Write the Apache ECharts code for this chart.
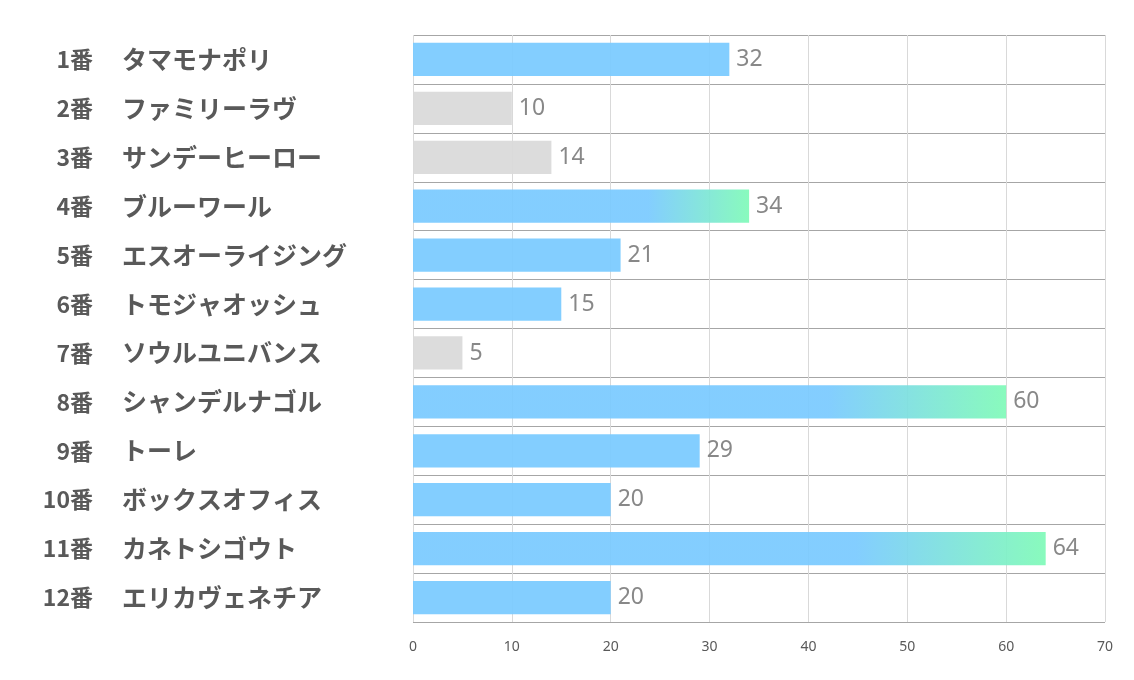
<!DOCTYPE html>
<html>
<head>
<meta charset="utf-8">
<script src="https://cdn.jsdelivr.net/npm/echarts@6/dist/echarts.min.js"></script>
<style>
  html, body { margin: 0; padding: 0; background: #fff; }
  #main { width: 1134px; height: 680px; }
</style>
</head>
<body>
<div id="main"></div>
<script>
// 馬番と馬名
const umaban = ["1番", "2番", "3番", "4番", "5番", "6番", "7番", "8番", "9番", "10番", "11番", "12番"];
const horseNames = ["タマモナポリ", "ファミリーラヴ", "サンデーヒーロー", "ブルーワール", "エスオーライジング", "トモジャオッシュ",
  "ソウルユニバンス", "シャンデルナゴル", "トーレ", "ボックスオフィス", "カネトシゴウト", "エリカヴェネチア"];
const scores = [32, 10, 14, 34, 21, 15, 5, 60, 29, 20, 64, 20];
// 0=通常(青) 1=低評価(灰) 2=注目(グラデーション)
const barType = [0, 1, 1, 2, 0, 0, 1, 2, 0, 0, 2, 0];
const xTicks = [0, 70, 10]; // min, max, interval

const BLUE = "#7acaff";
const GRAY = "#d9d9d9";
const GREEN = "#80fab8";

let chart = echarts.init(document.getElementById("main"));

let seriesData = scores.map((v, i) => {
  let color = BLUE;
  if (barType[i] === 1) color = GRAY;
  if (barType[i] === 2) {
    color = new echarts.graphic.LinearGradient(0, 0, 1, 0, [
      { offset: 0, color: BLUE },
      { offset: 0.7, color: BLUE },
      { offset: 1, color: GREEN },
    ]);
  }
  return { value: v, itemStyle: { color: color } };
});

let labelFont = {
  fontSize: 25,
  fontWeight: "bold",
  color: "#595959",
  fontFamily: "Noto Sans CJK JP",
};

let option = {
  backgroundColor: "#fff",
  animation: false,
  grid: {
    left: 413,
    right: 29,
    top: 35,
    bottom: 58,
  },
  xAxis: {
    type: "value",
    min: xTicks[0],
    max: xTicks[1],
    interval: xTicks[2],
    axisLine: { show: false },
    axisTick: { show: false },
    axisLabel: {
      color: "#595959",
      fontSize: 14,
      margin: 18,
      fontFamily: "Noto Sans",
    },
    splitLine: { lineStyle: { color: "#d9d9d9", width: 1 } },
  },
  yAxis: [
    {
      // 馬名（左揃え）
      type: "category",
      inverse: true,
      position: "left",
      data: horseNames,
      axisLine: { show: false },
      axisTick: { show: false },
      splitLine: { show: true, lineStyle: { color: "#a6a6a6", width: 1 } },
      axisLabel: Object.assign({ margin: 291, align: "left" }, labelFont),
    },
    {
      // 馬番（右揃え）
      type: "category",
      inverse: true,
      position: "left",
      data: umaban,
      axisLine: { show: false },
      axisTick: { show: false },
      splitLine: { show: false },
      axisLabel: Object.assign({ margin: 320, align: "right" }, labelFont, { fontSize: 23 }),
    },
  ],
  series: [
    {
      type: "bar",
      yAxisIndex: 0,
      barCategoryGap: "32%",
      data: seriesData,
      itemStyle: { opacity: 0.93 },
      label: {
        show: true,
        position: "right",
        distance: 7,
        color: "#7f7f7f",
        fontSize: 23,
        fontFamily: "Noto Sans",
      },
    },
  ],
};

chart.setOption(option);
</script>
</body>
</html>
